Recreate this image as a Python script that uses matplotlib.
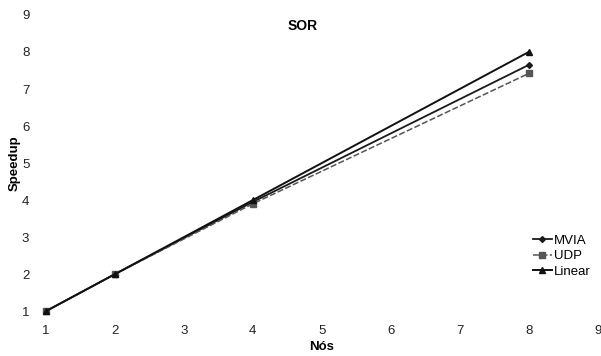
import matplotlib.pyplot as plt

nodes = [1, 2, 4, 8]
mvia = [1.0, 2.0, 3.95, 7.65]
udp = [1.0, 2.0, 3.9, 7.42]
linear = [1, 2, 4, 8]


def main():
    plt.rcParams['font.family'] = ['Liberation Sans', 'DejaVu Sans']
    fig = plt.figure(figsize=(6.01, 3.56), dpi=100)
    ax = fig.add_axes([0.0765, 0.126, 0.918, 0.832])

    ax.plot(nodes, mvia, color='#1a1a1a', lw=1.3, marker='D', ms=3, label='MVIA')
    ax.plot(nodes, udp, color='#555555', lw=1.1, ls=(0, (4, 1.5)), marker='s', ms=4,
            label='UDP')
    ax.plot(nodes, linear, color='#111111', lw=1.4, marker='^', ms=4, label='Linear')

    ax.set_xlim(1, 9)
    ax.set_ylim(1, 9)
    ax.set_xticks(range(1, 10))
    ax.set_yticks(range(1, 10))
    for s in ax.spines.values():
        s.set_visible(False)
    ax.tick_params(length=0, labelsize=9.5, colors='#222222', pad=10)
    ax.tick_params(axis='y', pad=12)
    for ln in ax.lines:
        ln.set_clip_on(False)

    fig.text(0.503, 0.915, 'SOR', fontsize=10, fontweight='bold', ha='center')
    ax.set_xlabel('Nós', fontsize=9.5, fontweight='bold', labelpad=3)
    ax.set_ylabel('Speedup', fontsize=9.5, fontweight='bold', labelpad=1)

    ax.legend(loc='lower right', bbox_to_anchor=(1.0, 0.09), frameon=False, fontsize=9.5,
              handlelength=1.4, handletextpad=0.2, labelspacing=0.25, borderpad=0)

    plt.savefig('out.png', dpi=100)


if __name__ == '__main__':
    main()
